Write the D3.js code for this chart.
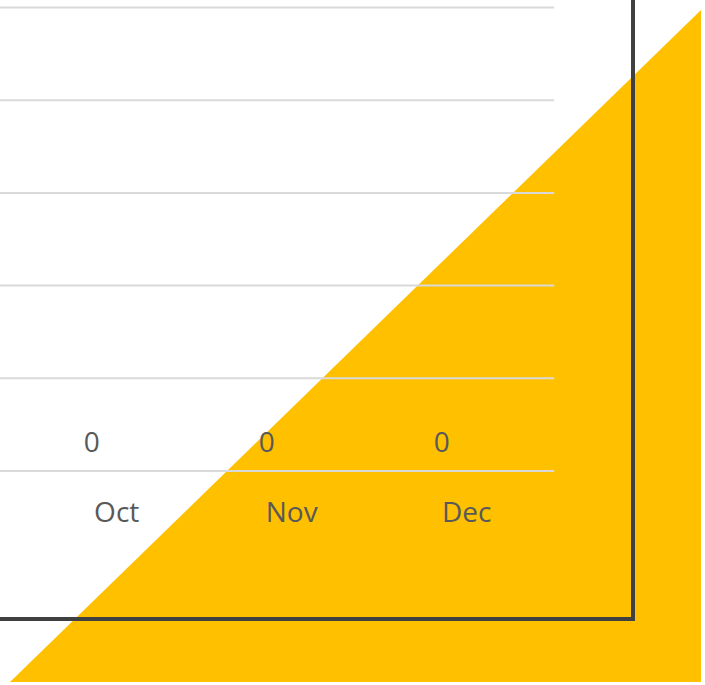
<!DOCTYPE html>
<html>
<head>
<meta charset="utf-8">
<script src="https://cdn.jsdelivr.net/npm/d3@7"></script>
<style>
  html, body { margin: 0; padding: 0; background: #fff; overflow: hidden; }
  svg { display: block; }
</style>
</head>
<body>
<div id="chart"></div>
<script>
// months shown in the visible part of the chart (earlier months sit off to the left)
const allMonths = ["Jan", "Feb", "Mar", "Apr", "May", "Jun", "Jul", "Aug", "Sep", "Oct", "Nov", "Dec"];
const months = ["Oct", "Nov", "Dec"];
const values = [0, 0, 0];
const yTicks = [0, 0.2, 0.4, 0.6, 0.8, 1];

const width = 705;
const height = 685;

const svg = d3.select("#chart").append("svg")
  .attr("width", width)
  .attr("height", height);

// yellow corner decoration behind the chart
const tri = d3.path();
tri.moveTo(701, 10);
tri.lineTo(701, 682);
tri.lineTo(10, 682);
tri.closePath();
svg.append("path").attr("d", tri.toString()).attr("fill", "#FFC000");

const plotRight = 554.2;
const step = 175;
const x = d3.scaleBand()
  .domain(allMonths)
  .range([plotRight - step * allMonths.length, plotRight])
  .padding(0);

const xSub = d3.scaleBand()
  .domain([0, 1])
  .range([0, x.bandwidth()])
  .paddingInner(0)
  .paddingOuter(0.75);

const y = d3.scaleLinear().domain([0, 1]).range([471, 7.5]);

// gridlines
svg.append("g")
  .attr("class", "grid")
  .selectAll("line")
  .data(yTicks)
  .join("line")
  .attr("x1", 0)
  .attr("x2", plotRight)
  .attr("y1", d => y(d))
  .attr("y2", d => y(d))
  .attr("stroke", "#d9d9d9")
  .attr("stroke-width", 2);

// category axis, only the months inside the window
const xAxis = svg.append("g")
  .attr("transform", `translate(0, ${y(0)})`)
  .call(d3.axisBottom(x).tickValues(months).tickSize(0).tickPadding(51));
xAxis.select(".domain").remove();
xAxis.selectAll("text")
  .attr("dy", null)
  .style("font-family", "'Open Sans', sans-serif")
  .style("font-size", "28px")
  .attr("fill", "#595959");

// data labels
svg.append("g")
  .selectAll("text")
  .data(months.map((m, i) => ({ m, v: values[i] })))
  .join("text")
  .attr("x", d => x(d.m) + xSub(0) + xSub.bandwidth() / 2)
  .attr("y", d => y(d.v) - 19)
  .attr("text-anchor", "middle")
  .style("font-family", "'Open Sans', sans-serif")
  .style("font-size", "28px")
  .attr("fill", "#595959")
  .text(d => d.v);

// chart frame
svg.append("rect")
  .attr("x", -50)
  .attr("y", -50)
  .attr("width", 633 + 50)
  .attr("height", 619 + 50)
  .attr("fill", "none")
  .attr("stroke", "#404040")
  .attr("stroke-width", 4);
</script>
</body>
</html>
